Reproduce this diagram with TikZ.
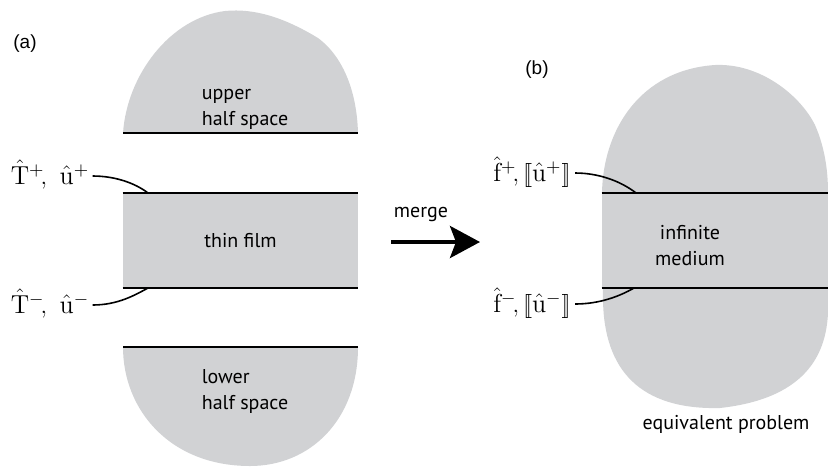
\documentclass[tikz,border=0pt]{standalone}
\usepackage{fontspec}
\setsansfont{PT Sans}
\newfontfamily\tagfont{Liberation Sans}
\usepackage{xcolor}
\definecolor{regiongray}{HTML}{D1D2D4}
\usepackage{amsmath}
\usepackage{tikz}
\usetikzlibrary{positioning, arrows.meta, calc}
\newcommand{\Thatt}{\hat{\mathrm{T}}}
\newcommand{\uhatt}{\hat{\mathrm{u}}}
\newcommand{\fhatt}{\hat{\mathrm{f}}}
\newcommand{\jumpbr}[1]{[\![#1]\!]}

\tikzset{
  region/.style={fill=regiongray, draw=none},
  slab/.style={fill=regiongray, draw=none, minimum height=47.5pt},
  rim/.style={line width=1pt},
  lead/.style={line width=0.8pt},
  sidelbl/.style={font=\fontsize{13}{15}\selectfont, anchor=base},
  tag/.style={font=\tagfont\fontsize{9.5}{11}\selectfont}
}

\begin{document}
\begin{tikzpicture}[x=0.5pt, y=-0.5pt,
    every node/.style={font=\sffamily\fontsize{10}{13}\selectfont, inner sep=0pt}]
  \useasboundingbox (0,0) rectangle (828,467);

  % (a) thin film between two half spaces
  \node[tag] (taga) at (25,44) {(a)};

  \fill[region] (123,133) .. controls (127,75) and (170,18) .. (225,11)
    .. controls (255,8) and (285,18) .. (318,38)
    .. controls (345,58) and (357,95) .. (358,133) -- cycle;
  \coordinate (upL) at (123,133);
  \coordinate (upR) at (358,133);
  \draw[rim] (upL) -- (upR);
  \node[align=left] (upperlbl) at (245,109) {upper\\half space};

  \node[slab, minimum width=117.5pt] (film) at (240.5,240.5) {thin film};
  \draw[rim] (film.north west) -- (film.north east);
  \draw[rim] (film.south west) -- (film.south east);

  \fill[region] (123,347) .. controls (123,410) and (170,466) .. (250,466)
    .. controls (310,466) and (358,420) .. (358,347) -- cycle;
  \coordinate (loL) at (123,347);
  \coordinate (loR) at (358,347);
  \draw[rim] (loL) -- (loR);
  \node[align=left] (lowerlbl) at (245,391) {lower\\half space};

  % traction and displacement labels
  \node[sidelbl] (tplus) at (50,184) {$\Thatt^{+}\!,\ \uhatt^{+}$};
  \node[sidelbl] (tminus) at (50,313) {$\Thatt^{-}\!,\ \uhatt^{-}$};
  \coordinate (tplusend) at (148,193);
  \coordinate (tminusend) at (148,288);
  \draw[lead] ($(tplus.base east)+(3,-8)$) .. controls (115,176) and (135,183) .. (tplusend);
  \draw[lead] ($(tminus.base east)+(3,-8)$) .. controls (118,305) and (135,295) .. (tminusend);

  % merge arrow
  \coordinate (mergeL) at (391,242);
  \coordinate (mergeR) at (480,242);
  \draw[line width=2pt, -{Stealth[length=15pt, width=16pt, inset=3pt]}] (mergeL) -- (mergeR);
  \node (mergelbl) at (421,214) {merge};

  % (b) equivalent problem
  \node[tag] (tagb) at (537,70) {(b)};

  \fill[region] (602,193) .. controls (603,130) and (640,70) .. (715,65)
    .. controls (760,63) and (800,95) .. (815,125)
    .. controls (826,150) and (828,175) .. (828,193)
    -- (828,300) .. controls (830,350) and (810,398) .. (720,408)
    .. controls (640,410) and (604,370) .. (603,300) -- cycle;
  \node[slab, minimum width=113pt] (medium) at (715,240.5) {};
  \draw[rim] (medium.north west) -- (medium.north east);
  \draw[rim] (medium.south west) -- (medium.south east);
  \node[align=center] (mediumlbl) at (690,246) {infinite\\medium};

  \node[sidelbl] (fplus) at (532,181) {$\fhatt^{+}\!,\jumpbr{\uhatt^{+}}$};
  \node[sidelbl] (fminus) at (532,312) {$\fhatt^{-}\!,\jumpbr{\uhatt^{-}}$};
  \coordinate (fplusend) at (636,193);
  \coordinate (fminusend) at (634,288);
  \draw[lead] ($(fplus.base east)+(4,-8)$) .. controls (600,173) and (622,182) .. (fplusend);
  \draw[lead] ($(fminus.base east)+(4,-8)$) .. controls (600,304) and (620,296) .. (fminusend);

  \node (eqlbl) at (726,424) {equivalent problem};
\end{tikzpicture}
\end{document}
